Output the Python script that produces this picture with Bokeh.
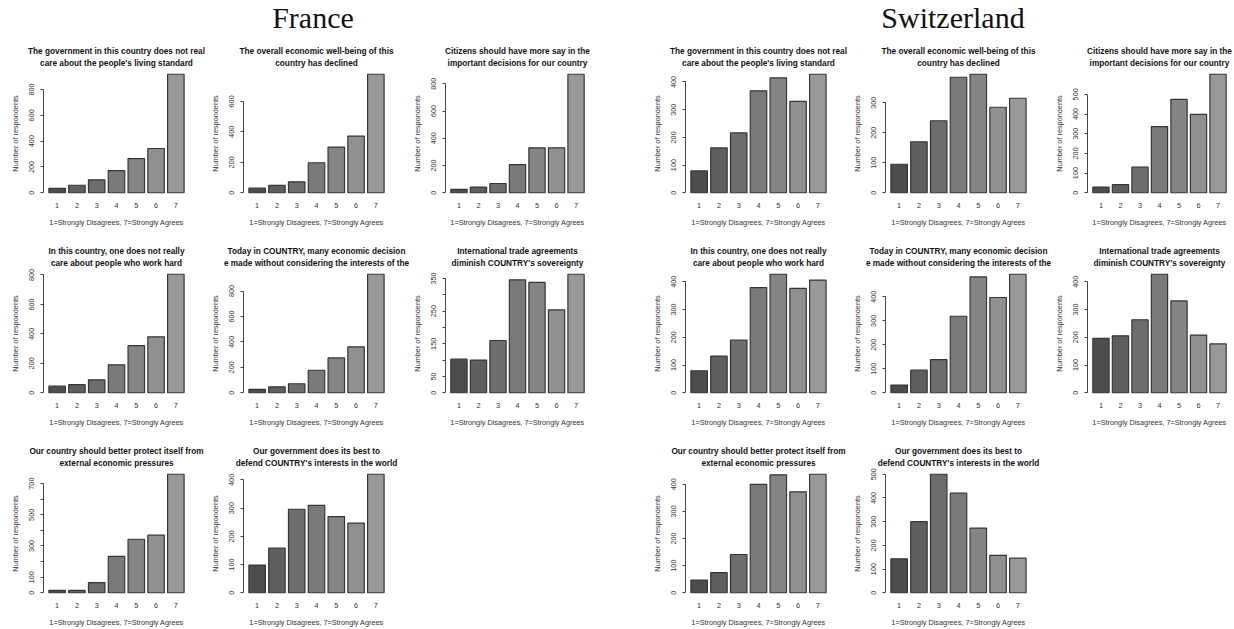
from bokeh.plotting import figure
from bokeh.models import Range1d, FixedTicker, Div, Spacer, ColumnDataSource, Title
from bokeh.layouts import row, column
from bokeh.embed import file_html
from bokeh.resources import INLINE

# ---------------- data ----------------
categories = [1, 2, 3, 4, 5, 6, 7]
x_axis_label = "1=Strongly Disagrees, 7=Strongly Agrees"
y_axis_label = "Number of respondents"
countries = ["France", "Switzerland"]

q_titles = [
    ["The government in this country does not real", "care about the people's living standard"],
    ["The overall economic well-being of this", "country has declined"],
    ["Citizens should have more say in the", "important decisions for our country"],
    ["In this country, one does not really", "care about people who work hard"],
    ["Today in COUNTRY, many economic decision", "e made without considering the interests of the"],
    ["International trade agreements", "diminish COUNTRY's sovereignty"],
    ["Our country should better protect itself from", "external economic pressures"],
    ["Our government does its best to", "defend COUNTRY's interests in the world"],
]

france_q1 = [34, 58, 100, 172, 265, 343, 918]
france_q2 = [30, 48, 72, 197, 300, 372, 778]
france_q3 = [25, 42, 68, 207, 330, 330, 870]
france_q4 = [45, 55, 88, 190, 320, 380, 805]
france_q5 = [26, 47, 71, 177, 274, 361, 932]
france_q6 = [103, 100, 160, 346, 338, 254, 363]
france_q7 = [15, 15, 65, 233, 343, 369, 760]
france_q8 = [98, 158, 296, 310, 270, 247, 420]

swiss_q1 = [79, 162, 216, 368, 415, 330, 428]
swiss_q2 = [95, 170, 240, 385, 395, 285, 315]
swiss_q3 = [29, 41, 130, 336, 474, 398, 602]
swiss_q4 = [79, 132, 190, 379, 427, 376, 406]
swiss_q5 = [32, 94, 138, 319, 483, 397, 494]
swiss_q6 = [196, 205, 263, 427, 331, 208, 176]
swiss_q7 = [47, 74, 141, 400, 435, 372, 437]
swiss_q8 = [143, 300, 500, 420, 273, 158, 146]

france_ticks = [
    [0, 200, 400, 600, 800],
    [0, 200, 400, 600],
    [0, 200, 400, 600, 800],
    [0, 200, 400, 600, 800],
    [0, 200, 400, 600, 800],
    [0, 50, 100, 150, 200, 250, 300, 350],
    [0, 100, 200, 300, 400, 500, 600, 700],
    [0, 100, 200, 300, 400],
]
france_tick_labels = [
    ["0", "200", "400", "600", "800"],
    ["0", "200", "400", "600"],
    ["0", "200", "400", "600", "800"],
    ["0", "200", "400", "600", "800"],
    ["0", "200", "400", "600", "800"],
    ["0", "50", "", "150", "", "250", "", "350"],
    ["0", "100", "", "300", "", "500", "", "700"],
    ["0", "100", "200", "300", "400"],
]
swiss_ticks = [
    [0, 100, 200, 300, 400],
    [0, 100, 200, 300],
    [0, 100, 200, 300, 400, 500],
    [0, 100, 200, 300, 400],
    [0, 100, 200, 300, 400],
    [0, 100, 200, 300, 400],
    [0, 100, 200, 300, 400],
    [0, 100, 200, 300, 400, 500],
]
swiss_tick_labels = [[str(t) for t in tk] for tk in swiss_ticks]

france_values = [france_q1, france_q2, france_q3, france_q4,
                 france_q5, france_q6, france_q7, france_q8]
swiss_values = [swiss_q1, swiss_q2, swiss_q3, swiss_q4,
                swiss_q5, swiss_q6, swiss_q7, swiss_q8]

# ---------------- style ----------------
bar_colors = ["#4d4d4d", "#5f5f5f", "#6d6d6d", "#7a7a7a", "#858585", "#909090", "#999999"]
bar_edge = "#363636"
txt = "#333333"
FONT = "Liberation Sans"
TITLE_SIZE = "8.25px"
SMALL = "7.3px"

# column geometry: (figure width, left border, right border)
france_cols = [(207, 43, 18), (202, 36, 20), (200, 34, 20)]
swiss_cols = [(206, 42, 18), (202, 36, 20), (183, 34, 3)]
row_heights = [200, 200, 199]
# horizontal shifts of the two title lines (clipped long title / right page edge)
france_title_shift = {4: (-3, -13)}
swiss_title_shift = {4: (-4, -12), 2: (-4, -3), 5: (-3, -3)}


def panel(lines, values, ticks, labels, geom, h, shift):
    w, bl, br = geom
    vmax = max(values)
    p = figure(width=w, height=h, output_backend="svg", toolbar_location=None,
               x_range=Range1d(categories[0] - 0.69, categories[-1] + 0.69),
               y_range=Range1d(-0.04 * vmax, 1.04 * vmax),
               min_border_left=bl, min_border_right=br,
               min_border_top=39, min_border_bottom=h - 39 - 128,
               outline_line_color=None, background_fill_color="white",
               border_fill_color="white", title=None)
    p.grid.visible = False
    src = ColumnDataSource(dict(x=categories, top=values, color=bar_colors))
    p.vbar(x="x", top="top", bottom=0, width=5 / 6, fill_color="color",
           line_color=bar_edge, line_width=1.2, source=src)

    for text, off, so in [(lines[1], shift[1], 3), (lines[0], shift[0], 0)]:
        t = Title(text=text, align="center", offset=off, standoff=so,
                  text_font=FONT, text_font_size=TITLE_SIZE,
                  text_font_style="bold", text_color="#111111")
        p.add_layout(t, "above")

    ya = p.yaxis[0]
    ya.ticker = FixedTicker(ticks=ticks)
    ya.major_label_overrides = {t: l for t, l in zip(ticks, labels)}
    ya.bounds = (ticks[0], ticks[-1])
    ya.axis_line_color = "#444444"
    ya.major_tick_line_color = "#444444"
    ya.major_tick_out = 3
    ya.major_tick_in = 0
    ya.minor_tick_line_color = None
    ya.minor_tick_out = 0
    ya.major_label_orientation = "vertical"
    ya.major_label_text_font = FONT
    ya.major_label_text_font_size = SMALL
    ya.major_label_text_color = txt
    ya.major_label_standoff = 6
    ya.axis_label = y_axis_label
    ya.axis_label_text_font = FONT
    ya.axis_label_text_font_size = SMALL
    ya.axis_label_text_font_style = "normal"
    ya.axis_label_text_color = txt
    ya.axis_label_standoff = 7

    xa = p.xaxis[0]
    xa.ticker = FixedTicker(ticks=categories)
    xa.axis_line_color = None
    xa.major_tick_line_color = None
    xa.major_tick_out = 0
    xa.major_tick_in = 0
    xa.minor_tick_line_color = None
    xa.minor_tick_out = 0
    xa.major_label_text_font = FONT
    xa.major_label_text_font_size = SMALL
    xa.major_label_text_color = txt
    xa.major_label_standoff = 5
    xa.axis_label = x_axis_label
    xa.axis_label_text_font = FONT
    xa.axis_label_text_font_size = SMALL
    xa.axis_label_text_font_style = "normal"
    xa.axis_label_text_color = txt
    xa.axis_label_standoff = 7
    return p


def header(name, width):
    html = ('<div style="font-family:\'Liberation Serif\';font-size:30px;'
            'line-height:35px;height:30px;text-align:center;color:#111111;'
            'white-space:nowrap;width:%dpx;margin:0;padding:0;">%s</div>' % (width, name))
    return Div(text=html, width=width, height=30, margin=0)


head = row(header(countries[0], 626), Spacer(width=54, height=30), header(countries[1], 546))

rows = []
for r in range(3):
    items = []
    for cvals, cticks, clabels, cols, shifts, cname in [
        (france_values, france_ticks, france_tick_labels, france_cols, france_title_shift, "F"),
        (swiss_values, swiss_ticks, swiss_tick_labels, swiss_cols, swiss_title_shift, "S"),
    ]:
        for c in range(3):
            k = r * 3 + c
            if k < 8:
                items.append(panel(q_titles[k], cvals[k], cticks[k], clabels[k],
                                   cols[c], row_heights[r], shifts.get(k, (0, 0))))
            else:
                items.append(Spacer(width=cols[c][0], height=row_heights[r]))
        if cname == "F":
            items.append(Spacer(width=34, height=row_heights[r]))
    rows.append(row(*items))

page = column(head, *rows)

open("out.html", "w").write(file_html(page, INLINE))
